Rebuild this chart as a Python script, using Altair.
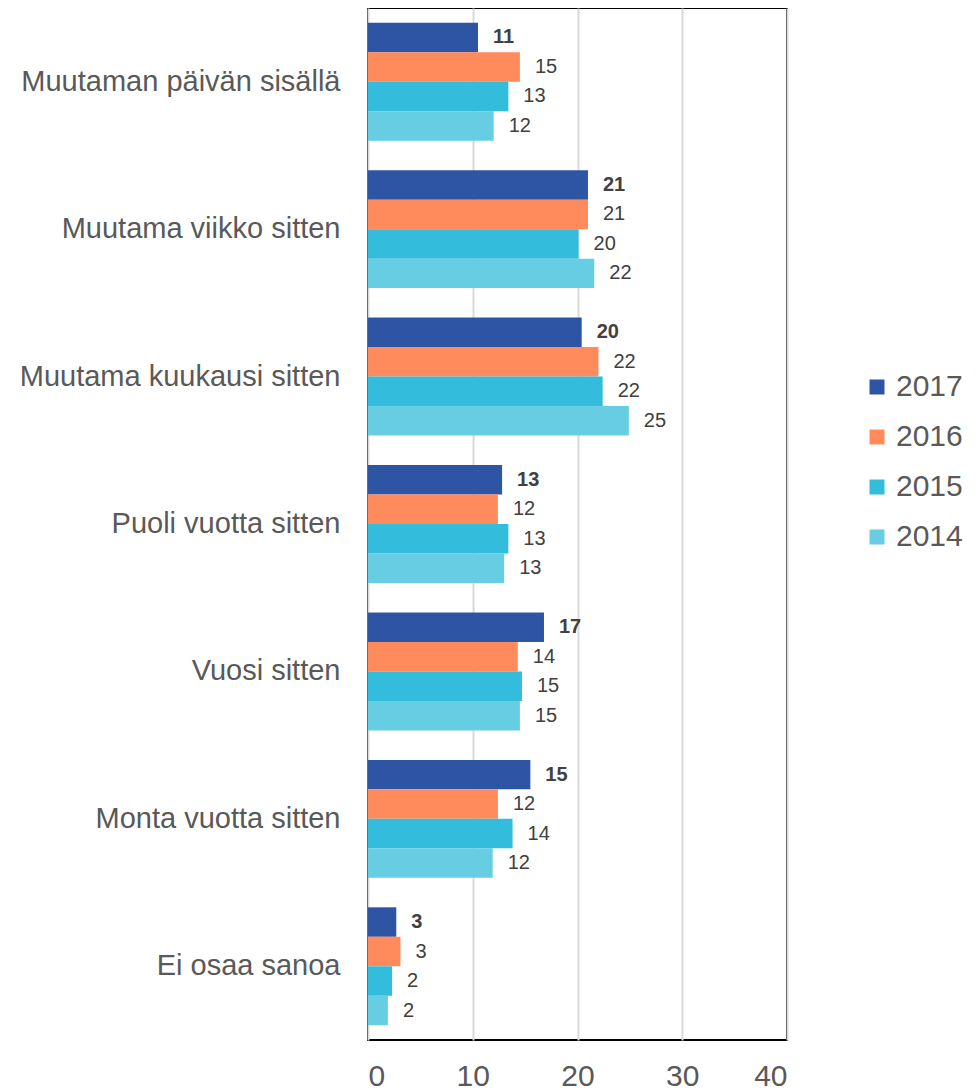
import altair as alt
import pandas as pd

categories = [
    "Muutaman päivän sisällä",
    "Muutama viikko sitten",
    "Muutama kuukausi sitten",
    "Puoli vuotta sitten",
    "Vuosi sitten",
    "Monta vuotta sitten",
    "Ei osaa sanoa",
]
years = ["2017", "2016", "2015", "2014"]
values_2017 = [10.5, 21.0, 20.4, 12.8, 16.8, 15.5, 2.7]
values_2016 = [14.5, 21.0, 22.0, 12.4, 14.3, 12.4, 3.1]
values_2015 = [13.4, 20.1, 22.4, 13.4, 14.7, 13.8, 2.3]
values_2014 = [12.0, 21.6, 24.9, 13.0, 14.5, 11.9, 1.9]
labels_2017 = ["11", "21", "20", "13", "17", "15", "3"]
labels_2016 = ["15", "21", "22", "12", "14", "12", "3"]
labels_2015 = ["13", "20", "22", "13", "15", "14", "2"]
labels_2014 = ["12", "22", "25", "13", "15", "12", "2"]
colors = ["#2E54A4", "#FF8A5B", "#33BCDB", "#66CDE3"]
x_ticks = [0, 10, 20, 30, 40]

series = {
    "2017": (values_2017, labels_2017),
    "2016": (values_2016, labels_2016),
    "2015": (values_2015, labels_2015),
    "2014": (values_2014, labels_2014),
}
rows = []
for yr in years:
    vals, labs = series[yr]
    for c, v, l in zip(categories, vals, labs):
        rows.append({"Category": c, "Year": yr, "Value": v, "Label": l})
df = pd.DataFrame(rows)

FONT = "Liberation Sans"

y_enc = alt.Y(
    "Category:N",
    sort=categories,
    scale=alt.Scale(paddingInner=0.2, paddingOuter=0.1),
    axis=alt.Axis(
        title=None, labelFontSize=29, labelColor="#595959", labelPadding=28,
        ticks=False, domain=False, labelFont=FONT, labelLimit=400,
    ),
)
yoff_enc = alt.YOffset("Year:N", sort=years, scale=alt.Scale(paddingInner=0, paddingOuter=0))
x_enc = alt.X(
    "Value:Q",
    scale=alt.Scale(domain=[0, 40], nice=False),
    axis=alt.Axis(
        values=x_ticks, title=None, ticks=False, domain=False, grid=True,
        gridColor="#d9d9d9", gridWidth=2, labelFontSize=30, labelColor="#595959",
        labelPadding=21, labelFont=FONT,
    ),
)

base = alt.Chart(df).encode(y=y_enc, yOffset=yoff_enc, x=x_enc)

bars = base.mark_bar().encode(
    color=alt.Color(
        "Year:N",
        scale=alt.Scale(domain=years, range=colors),
        legend=alt.Legend(
            title=None, orient="none", legendX=494, legendY=364,
            labelFontSize=30, labelColor="#595959", labelFont=FONT,
            symbolType="square", symbolSize=225, symbolStrokeWidth=0,
            rowPadding=20, labelOffset=4,
        ),
    )
)

labels_bold = base.mark_text(
    align="left", baseline="middle", dx=15, fontSize=20, font=FONT,
    fontWeight="bold", color="#404040",
).encode(text="Label:N").transform_filter(alt.datum.Year == "2017")

labels_norm = base.mark_text(
    align="left", baseline="middle", dx=15, fontSize=20, font=FONT,
    color="#404040",
).encode(text="Label:N").transform_filter(alt.datum.Year != "2017")

chart = (
    alt.layer(bars, labels_bold, labels_norm)
    .properties(
        width=419, height=1032,
        autosize=alt.AutoSizeParams(type="none"),
        padding={"left": 360, "top": 0, "right": 180, "bottom": 60},
    )
    .configure_view(stroke="black", strokeWidth=2)
)

chart.save("out.html", embed_options={"renderer": "svg", "actions": False})
